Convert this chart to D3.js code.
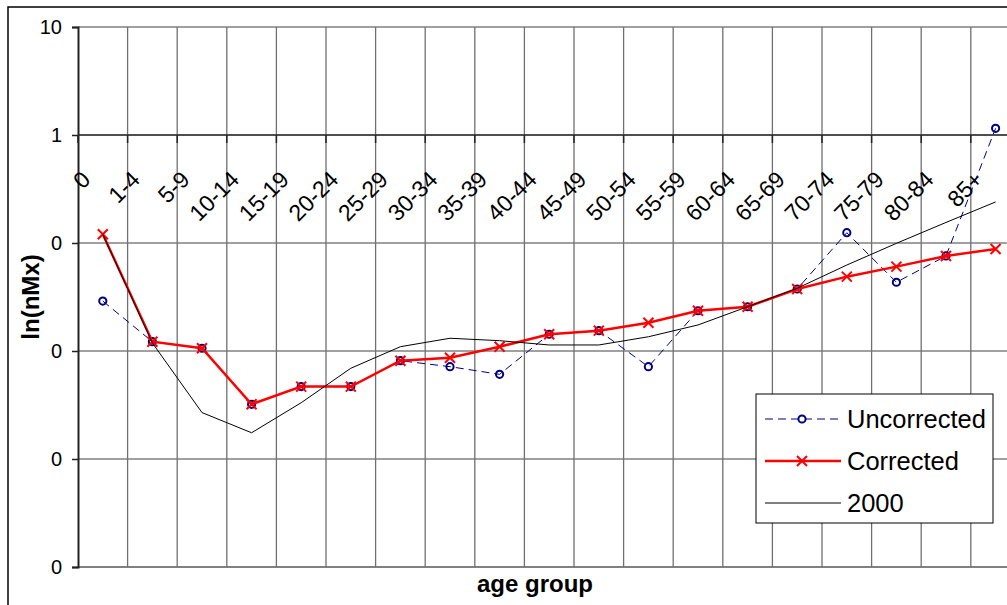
<!DOCTYPE html>
<html>
<head>
<meta charset="utf-8">
<script src="https://cdn.jsdelivr.net/npm/d3@7"></script>
<style>
  body { margin: 0; background: #fff; }
  svg { display: block; font-family: "Liberation Sans", Arial, sans-serif; }
</style>
</head>
<body>
<div id="chart"></div>
<script>
// age groups on the x axis
const categories = ["0", "1-4", "5-9", "10-14", "15-19", "20-24", "25-29", "30-34", "35-39", "40-44",
    "45-49", "50-54", "55-59", "60-64", "65-69", "70-74", "75-79", "80-84", "85+"];

// nMx values
const uncorrected = [0.0290, 0.0122, 0.0106, 0.00321, 0.00468, 0.00468, 0.00813, 0.00716, 0.00608, 0.01429,
    0.01543, 0.00716, 0.0236, 0.0257, 0.0375, 0.1245, 0.0433, 0.0759, 1.153];
const corrected = [0.1205, 0.0122, 0.0106, 0.00321, 0.00468, 0.00468, 0.00813, 0.00867, 0.01096, 0.01429,
    0.01543, 0.01829, 0.0236, 0.0257, 0.0375, 0.0488, 0.0604, 0.0759, 0.0880];
const year2000 = [0.1205, 0.01186, 0.00269, 0.00175, 0.00332, 0.00692, 0.01096, 0.01312, 0.01246, 0.01137,
    0.01137, 0.01355, 0.01742, 0.0257, 0.0381, 0.0625, 0.0993, 0.155, 0.240];

const yTicks = [10, 1, 0.1, 0.01, 0.001, 0.0001];
const yTickLabels = ["10", "1", "0", "0", "0", "0"];
const seriesNames = ["Uncorrected", "Corrected", "2000"];

var margin = {top: 27, left: 78};
var width = 942.4;
const height = 540;

const svg = d3.select("#chart")
    .append("svg")
    .attr("width", 1007)
    .attr("height", 605);

// outer chart frame (right and bottom run off the picture)
svg.append("rect")
    .attr("x", 8)
    .attr("y", 7)
    .attr("width", 1100)
    .attr("height", 700)
    .attr("fill", "none")
    .attr("stroke", "#000")
    .attr("stroke-width", 1.5);

const g = svg.append("g")
    .attr("transform", "translate(" + margin.left + "," + margin.top + ")");

var xScale = d3.scaleBand()
    .domain(categories)
    .range([0, width]);

var yScale = d3.scaleLog()
    .domain([0.0001, 10])
    .range([height, 0]);

function cx(i) { return xScale(categories[i]) + xScale.bandwidth() / 2; }

// horizontal gridlines
g.selectAll(".hgrid")
    .data(yTicks)
    .enter().append("line")
    .attr("x1", 0)
    .attr("x2", width)
    .attr("y1", function(d) { return yScale(d) })
    .attr("y2", function(d) { return yScale(d) })
    .attr("stroke", "#808080")
    .attr("stroke-width", function(d, i) { return i === yTicks.length - 1 ? 2 : 1.3 });

// vertical gridlines at category boundaries
g.selectAll(".vgrid")
    .data(categories.slice(1))
    .enter().append("line")
    .attr("x1", function(d) { return xScale(d) })
    .attr("x2", function(d) { return xScale(d) })
    .attr("y1", 0)
    .attr("y2", height)
    .attr("stroke", "#707070")
    .attr("stroke-width", 1.3);

// y axis
const yAxis = g.append("g")
    .call(d3.axisLeft(yScale).tickValues(yTicks).tickSize(6).tickPadding(10)
        .tickFormat(function(d, i) { return yTickLabels[i] }));
yAxis.select(".domain").attr("stroke", "#222").attr("stroke-width", 2);
yAxis.selectAll(".tick line").attr("stroke", "#222").attr("stroke-width", 1.5);
yAxis.selectAll("text")
    .attr("fill", "#000")
    .style("font-size", "20px");

// category axis crosses at 1
const xAxisY = yScale(1);
g.append("line")
    .attr("x1", 0)
    .attr("x2", width)
    .attr("y1", xAxisY)
    .attr("y2", xAxisY)
    .attr("stroke", "#333")
    .attr("stroke-width", 1.5);

g.selectAll(".xtick")
    .data(categories)
    .enter().append("line")
    .attr("x1", function(d) { return xScale(d) })
    .attr("x2", function(d) { return xScale(d) })
    .attr("y1", xAxisY)
    .attr("y2", xAxisY + 8)
    .attr("stroke", "#222")
    .attr("stroke-width", 1.5);

g.selectAll(".xlabel")
    .data(categories)
    .enter().append("text")
    .attr("transform", function(d, i) { return "translate(" + (cx(i) - 11) + "," + (xAxisY + 46) + ") rotate(-45)" })
    .style("text-anchor", "end")
    .style("font-size", "23px")
    .text(function(d) { return d });

// series lines
var line = d3.line()
    .x(function(d, i) { return cx(i) })
    .y(function(d) { return yScale(d) });

g.append("path")
    .datum(uncorrected)
    .attr("d", line)
    .attr("fill", "none")
    .attr("stroke", "#000080")
    .attr("stroke-width", 1)
    .attr("stroke-dasharray", "8,5");

g.selectAll(".ucirc")
    .data(uncorrected)
    .enter().append("circle")
    .attr("cx", function(d, i) { return cx(i) })
    .attr("cy", function(d) { return yScale(d) })
    .attr("r", 3.6)
    .attr("fill", "none")
    .attr("stroke", "#000080")
    .attr("stroke-width", 2);

g.append("path")
    .datum(corrected)
    .attr("d", line)
    .attr("fill", "none")
    .attr("stroke", "#ff0000")
    .attr("stroke-width", 2.5);

const cross = "M-5,-5L5,5M-5,5L5,-5";
g.selectAll(".cmark")
    .data(corrected)
    .enter().append("path")
    .attr("transform", function(d, i) { return "translate(" + cx(i) + "," + yScale(d) + ")" })
    .attr("d", cross)
    .attr("stroke", "#ff0000")
    .attr("stroke-width", 2);

g.append("path")
    .datum(year2000)
    .attr("d", line)
    .attr("fill", "none")
    .attr("stroke", "#000")
    .attr("stroke-width", 1);

// axis titles
svg.append("text")
    .attr("transform", "rotate(-90)")
    .attr("x", -(margin.top + height / 2))
    .attr("y", 39)
    .style("text-anchor", "middle")
    .style("font-size", "24px")
    .style("font-weight", "bold")
    .text("ln(nMx)");

svg.append("text")
    .attr("x", 535)
    .attr("y", 592)
    .style("text-anchor", "middle")
    .style("font-size", "24px")
    .style("font-weight", "bold")
    .text("age group");

// legend
const legend = svg.append("g")
    .attr("transform", "translate(756,394)");

legend.append("rect")
    .attr("width", 237)
    .attr("height", 129)
    .attr("fill", "#fff")
    .attr("stroke", "#000")
    .attr("stroke-width", 1);

const items = legend.selectAll(".item")
    .data(seriesNames)
    .enter().append("g")
    .attr("transform", function(d, i) { return "translate(0," + (25 + i * 42) + ")" });

items.append("line")
    .attr("x1", 9)
    .attr("x2", 85)
    .attr("stroke", function(d, i) { return i === 0 ? "#000080" : i === 1 ? "#ff0000" : "#000" })
    .attr("stroke-width", function(d, i) { return i === 1 ? 2.5 : 1 })
    .attr("stroke-dasharray", function(d, i) { return i === 0 ? "8,5" : null });

items.filter(function(d, i) { return i === 0 })
    .append("circle")
    .attr("cx", 46)
    .attr("r", 3.6)
    .attr("fill", "#fff")
    .attr("stroke", "#000080")
    .attr("stroke-width", 2);

items.filter(function(d, i) { return i === 1 })
    .append("path")
    .attr("transform", "translate(46,0)")
    .attr("d", cross)
    .attr("stroke", "#ff0000")
    .attr("stroke-width", 2);

items.append("text")
    .attr("x", 91)
    .attr("y", 9)
    .style("font-size", "25.5px")
    .text(function(d) { return d });
</script>
</body>
</html>
